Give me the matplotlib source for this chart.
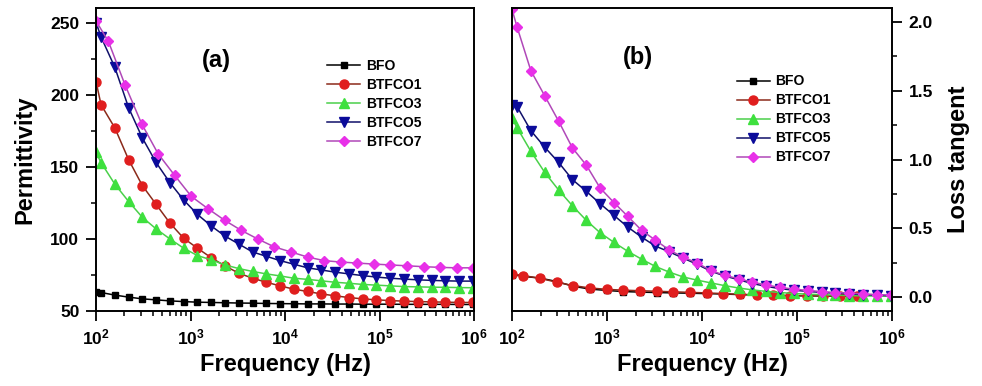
import numpy as np
import matplotlib as mpl
mpl.use('Agg')
import matplotlib.pyplot as plt
from matplotlib.ticker import MultipleLocator, LogLocator, NullFormatter

plt.rcParams['font.family'] = ['Liberation Sans', 'DejaVu Sans']
plt.rcParams['font.weight'] = 'bold'
plt.rcParams['mathtext.fontset'] = 'custom'
plt.rcParams['mathtext.rm'] = 'Liberation Sans:bold'
plt.rcParams['mathtext.it'] = 'Liberation Sans:bold'
plt.rcParams['mathtext.bf'] = 'Liberation Sans:bold'

# -------------------------------------------------------------------------
# frequency grids (Hz)
freq_a = [100, 113, 158, 221, 309, 432, 605, 846, 1183, 1655, 2314, 3237, 4527,
          6331, 8854, 12383, 17319, 24221, 33874, 47374, 66254, 92658, 129585,
          181228, 253452, 354459, 495720, 693275, 969560]
freq_b = [100, 135, 202, 303, 454, 680, 1019, 1527, 2288, 3428, 5136, 7695,
          11529, 17273, 25879, 38774, 58093, 87037, 130404, 195379, 292729,
          438586, 657119, 984536]
freq_c = [100, 132, 197, 295, 442, 662, 993, 1486, 2228, 3334, 5000, 7482,
          11220, 16788, 25177, 37670, 56494, 84528, 126765, 189671, 284446,
          425598]

labels = ['BFO', 'BTFCO1', 'BTFCO3', 'BTFCO5', 'BTFCO7']

# (a) permittivity
perm_bfo = [63.5, 62.9, 61.1, 59.7, 58.5, 57.8, 57.1, 56.6, 56.2, 56.0, 55.8,
            55.6, 55.5, 55.3, 55.2, 55.1, 55.0, 55.0, 54.9, 54.9, 54.8, 54.8,
            54.8, 54.7, 54.7, 54.7, 54.7, 54.6, 54.6]
perm_btfco1 = [209, 193, 177, 155, 137, 124, 111, 100.5, 93.6, 87, 81.3, 76.3,
               72.8, 70, 67.5, 65.2, 63.6, 61.9, 60.6, 59.4, 58.5, 57.8, 57.3,
               56.9, 56.6, 56.4, 56.2, 56, 56]
perm_btfco3 = [160, 152.9, 138, 126, 115, 107, 100, 93.6, 88.5, 85.5, 82, 79.5,
               77.5, 75.8, 74.4, 72.8, 72, 71, 70, 69.3, 68.5, 68, 67.5, 67,
               66.8, 66.6, 66.5, 66.3, 66.2]
perm_btfco5 = [250, 240, 219, 191, 170, 153, 139, 127, 117, 109, 102, 96.5, 91,
               88, 85, 82.5, 80, 78.5, 77, 75.8, 74.6, 73.6, 72.8, 72.2, 71.7,
               71.3, 71, 70.8, 70.8]
perm_btfco7 = [251, 237, 207, 180, 159, 144, 129.5, 121, 113, 106, 100, 94.5,
               91, 87.5, 85, 84, 83.3, 82.6, 82, 81.4, 80.8, 80.3, 80, 80]

# (b) loss tangent
tan_bfo = [0.165, 0.152, 0.14, 0.115, 0.08, 0.06, 0.05, 0.042, 0.038, 0.035,
           0.032, 0.03, 0.027, 0.024, 0.02, 0.017, 0.014, 0.012, 0.011, 0.01,
           0.009, 0.009]
tan_btfco1 = [0.17, 0.158, 0.138, 0.11, 0.085, 0.068, 0.058, 0.052, 0.048,
              0.044, 0.04, 0.036, 0.032, 0.027, 0.022, 0.018, 0.015, 0.013,
              0.012, 0.011, 0.01, 0.01]
tan_btfco3 = [1.30, 1.232, 1.06, 0.907, 0.78, 0.665, 0.559, 0.469, 0.399, 0.334,
              0.277, 0.224, 0.183, 0.148, 0.125, 0.105, 0.085, 0.068, 0.054,
              0.043, 0.035, 0.028, 0.023, 0.019, 0.016, 0.013, 0.011, 0.009,
              0.008]
tan_btfco5 = [1.40, 1.385, 1.21, 1.09, 0.98, 0.855, 0.77, 0.68, 0.595, 0.51,
              0.437, 0.372, 0.33, 0.285, 0.24, 0.19, 0.155, 0.128, 0.1, 0.08,
              0.063, 0.052, 0.043, 0.036, 0.03, 0.025, 0.02, 0.016, 0.012]
tan_btfco7 = [2.09, 1.963, 1.645, 1.463, 1.28, 1.085, 0.96, 0.794, 0.688, 0.588,
              0.486, 0.415, 0.343, 0.292, 0.25, 0.195, 0.16, 0.135, 0.11, 0.09,
              0.072, 0.06, 0.05, 0.042, 0.035, 0.03, 0.025, 0.02, 0.015]
# -------------------------------------------------------------------------

# (marker, marker colour, line colour, marker size)
styles = [('s', '#000000', '#000000', 5),
          ('o', '#e01e1e', '#8b2a1a', 6.5),
          ('^', '#3ee03e', '#4ad04a', 7),
          ('v', '#0b0b9a', '#10106a', 7),
          ('D', '#e830e8', '#b048b8', 5.5)]


def draw(ax, xs, ys):
    for x, y, lab, (m, mc, lc, ms) in zip(xs, ys, labels, styles):
        ax.plot(x, y, color=lc, lw=1.1, marker=m, ms=ms, mfc=mc, mec=mc,
                label=lab)


def style_axis(ax):
    ax.set_xscale('log')
    ax.set_xlim(100, 1e6)
    ax.xaxis.set_major_locator(LogLocator(base=10, numticks=10))
    ax.xaxis.set_minor_locator(LogLocator(base=10, subs=np.arange(2, 10), numticks=20))
    ax.xaxis.set_minor_formatter(NullFormatter())
    ax.tick_params(which='major', direction='out', length=7, width=1.3,
                   labelsize=12.5, pad=5)
    ax.tick_params(which='minor', direction='out', length=3.5, width=1.1)
    for sp in ax.spines.values():
        sp.set_linewidth(1.4)
    ax.set_xlabel('Frequency (Hz)', fontsize=17, fontweight='bold', labelpad=4)


fig = plt.figure(figsize=(9.82, 3.86), dpi=100)
ax1 = fig.add_axes([0.0978, 0.194, 0.385, 0.785])
ax2 = fig.add_axes([0.5214, 0.194, 0.387, 0.785])

draw(ax1, [freq_a, freq_a, freq_a, freq_a, freq_b],
     [perm_bfo, perm_btfco1, perm_btfco3, perm_btfco5, perm_btfco7])
style_axis(ax1)
ax1.set_ylim(50, 260)
ax1.yaxis.set_major_locator(MultipleLocator(50))
ax1.yaxis.set_minor_locator(MultipleLocator(25))
ax1.set_ylabel('Permittivity', fontsize=17, fontweight='bold', labelpad=10)
ax1.text(0.319, 0.828, '(a)', transform=ax1.transAxes, fontsize=17,
         fontweight='bold', ha='center', va='center')
ax1.legend(loc='upper left', bbox_to_anchor=(0.611, 0.832), frameon=False,
           fontsize=10, handlelength=2.4, handletextpad=0.4, labelspacing=0.36,
           borderpad=0, borderaxespad=0)

draw(ax2, [freq_c, freq_c, freq_a, freq_a, freq_a],
     [tan_bfo, tan_btfco1, tan_btfco3, tan_btfco5, tan_btfco7])
style_axis(ax2)
ax2.set_ylim(-0.1, 2.1)
ax2.yaxis.set_major_locator(MultipleLocator(0.5))
ax2.yaxis.set_minor_locator(MultipleLocator(0.25))
ax2.yaxis.tick_right()
ax2.yaxis.set_label_position('right')
ax2.set_ylabel('Loss tangent', fontsize=17, fontweight='bold', labelpad=10)
ax2.text(0.331, 0.838, '(b)', transform=ax2.transAxes, fontsize=17,
         fontweight='bold', ha='center', va='center')
ax2.legend(loc='upper left', bbox_to_anchor=(0.591, 0.781), frameon=False,
           fontsize=10, handlelength=2.4, handletextpad=0.4, labelspacing=0.36,
           borderpad=0, borderaxespad=0)

plt.savefig('out.png', dpi=100)
plt.close(fig)
